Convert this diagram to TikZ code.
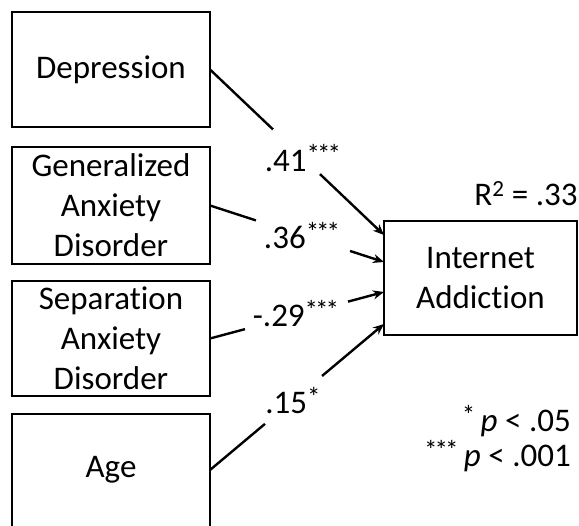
\documentclass[tikz,border=0pt]{standalone}
\usepackage{fontspec}
\setmainfont[Ligatures=NoCommon]{Carlito}
\usetikzlibrary{calc,arrows.meta}
\newcommand\onestar{{\fontsize{27}{27}\selectfont *}}
\newcommand\sgl{\raisebox{7.5pt}{\onestar}}
\newcommand\trp{\raisebox{7.5pt}{\onestar\kern-3pt\onestar\kern-3pt\onestar}}
\begin{document}
\begin{tikzpicture}[x=1pt,y=-1pt,
  txt/.style={font=\fontsize{33}{40}\selectfont},
  box/.style={txt, draw, line width=2.6pt, minimum width=198pt, minimum height=115pt,
    inner sep=0pt, outer sep=0pt, align=center},
  conn/.style={line width=2.4pt},
  arr/.style={conn, -{Stealth[length=11pt,width=9pt]}},
  lbl/.style={txt, inner sep=0pt},
]
\useasboundingbox (0,0) rectangle (579,526);
\clip (0,0) rectangle (579,526);

% predictor boxes
\node[box] (dep) at (111,69.5) {Depression};
\node[box, minimum height=117pt] (gad) at (111,205.5) {Generalized\\Anxiety\\Disorder};
\node[box] (sad) at (111,338.5) {Separation\\Anxiety\\Disorder};
\node[box, draw=none, minimum height=112pt] (age) at (111,470) {Age};
\draw[line width=2.6pt] ($(age.south west)+(0,10)$) -- (age.north west) -- (age.north east) -- ($(age.south east)+(0,10)$);

% outcome box
\node[box, minimum width=193pt, minimum height=114pt] (ia) at (480.5,278) {Internet\\Addiction};
\node[lbl] (r2) at (526,194) {R\textsuperscript{2} = .33};

% arrow targets
\coordinate (t1) at ($(ia.north west)+(0,14)$);
\coordinate (t2) at ($(ia.north west)+(0,41)$);
\coordinate (t3) at ($(ia.north west)+(0,71)$);
\coordinate (t4) at ($(ia.north west)+(0,103)$);

% Depression
\draw[conn] (dep.east) -- ($(dep.east)!0.362!(t1)$);
\draw[arr] ($(dep.east)!0.632!(t1)$) -- (t1);
\node[lbl] (l1) at ($(dep.east)!0.534!(t1)$) {.41\trp};

% GAD
\draw[conn] (gad.east) -- ($(gad.east)!0.264!(t2)$);
\draw[arr] ($(gad.east)!0.805!(t2)$) -- (t2);
\node[lbl] (l2) at ($(gad.east)!0.529!(t2)$) {.36\trp};

% SAD
\draw[conn] (sad.east) -- ($(sad.east)!0.201!(t3)$);
\draw[arr] ($(sad.east)!0.793!(t3)$) -- (t3);
\node[lbl] (l3) at ($(sad.east)!0.494!(t3)+(0,-2)$) {-.29\trp};

% Age
\draw[conn] (age.east) -- ($(age.east)!0.316!(t4)$);
\draw[arr] ($(age.east)!0.644!(t4)$) -- (t4);
\node[lbl] (l4) at ($(age.east)!0.477!(t4)$) {.15\sgl};

% footnotes
\node[lbl, anchor=base east] (f1) at (571,432) {\sgl\,\textit{p} < .05};
\node[lbl, anchor=base east] (f2) at (571,467) {\trp\,\textit{p} < .001};
\end{tikzpicture}
\end{document}
